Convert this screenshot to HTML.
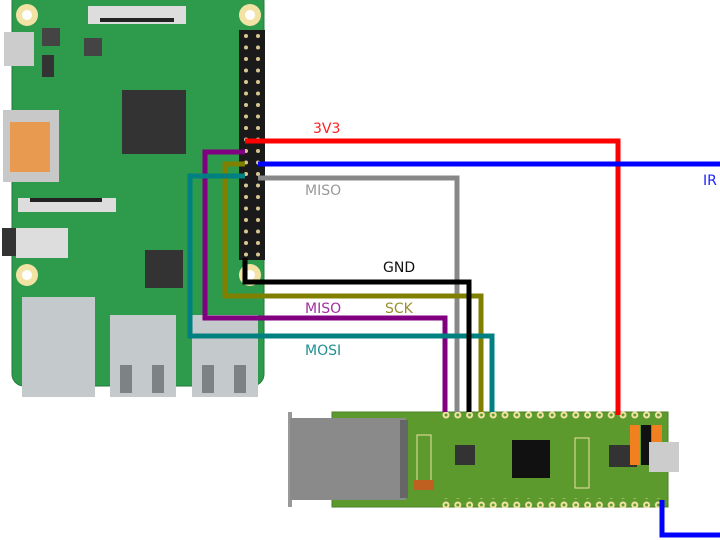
<!DOCTYPE html>
<html><head><meta charset="utf-8"><style>
body{margin:0;background:#fff;width:720px;height:540px;overflow:hidden}
svg{display:block}
text{font-family:"DejaVu Sans","Liberation Sans",sans-serif;font-size:14px}
</style></head><body>
<svg width="720" height="540" viewBox="0 0 720 540">
<defs>
<pattern id="hp" x="239" y="30" width="26" height="11.5" patternUnits="userSpaceOnUse">
<circle cx="7" cy="6" r="2" fill="#d8c890"/><circle cx="19" cy="6" r="2" fill="#d8c890"/>
</pattern>
<pattern id="pp" x="440" y="0" width="11.8" height="10" patternUnits="userSpaceOnUse">
<circle cx="6" cy="5" r="3.5" fill="#f2e3a5"/><circle cx="6" cy="5" r="1.5" fill="#5d9a2e"/>
</pattern>
</defs>
<!-- RPi board -->
<rect x="12" y="-10" width="252" height="396" rx="12" fill="#2e9a4c" stroke="#237a3a"/>
<circle cx="27" cy="15" r="11" fill="#f2e3a5"/><circle cx="27" cy="15" r="5" fill="#fff"/>
<circle cx="250" cy="15" r="11" fill="#f2e3a5"/><circle cx="250" cy="15" r="5" fill="#fff"/>
<circle cx="27" cy="275" r="11" fill="#f2e3a5"/><circle cx="27" cy="275" r="5" fill="#fff"/>
<circle cx="250" cy="275" r="11" fill="#f2e3a5"/><circle cx="250" cy="275" r="5" fill="#fff"/>
<rect x="88" y="6" width="98" height="18" fill="#ddd"/><rect x="100" y="18" width="74" height="4" fill="#222"/>
<rect x="4" y="32" width="30" height="34" fill="#ccc"/>
<rect x="3" y="110" width="56" height="72" fill="#c8c8c8"/><rect x="10" y="122" width="40" height="50" fill="#e89a50"/>
<rect x="18" y="198" width="98" height="14" fill="#ddd"/><rect x="30" y="198" width="72" height="4" fill="#222"/>
<rect x="2" y="228" width="14" height="28" fill="#333"/><rect x="16" y="228" width="52" height="30" fill="#ddd"/>
<rect x="122" y="90" width="64" height="64" fill="#333"/>
<rect x="145" y="250" width="38" height="38" fill="#333"/>
<rect x="42" y="28" width="18" height="18" fill="#444"/><rect x="84" y="38" width="18" height="18" fill="#444"/>
<rect x="42" y="55" width="12" height="22" fill="#333"/>
<rect x="239" y="30" width="26" height="230" fill="#1a1a1a"/>
<rect x="239" y="30" width="26" height="230" fill="url(#hp)"/>
<rect x="22" y="297" width="73" height="100" fill="#c4c9cc"/>
<rect x="110" y="315" width="66" height="82" fill="#c4c9cc"/>
<rect x="192" y="315" width="66" height="82" fill="#c4c9cc"/>
<rect x="120" y="365" width="12" height="28" fill="#7d8285"/><rect x="152" y="365" width="12" height="28" fill="#7d8285"/>
<rect x="202" y="365" width="12" height="28" fill="#7d8285"/><rect x="234" y="365" width="12" height="28" fill="#7d8285"/>
<!-- Pico board -->
<rect x="288" y="412" width="4" height="95" fill="#999"/>
<rect x="332" y="412" width="336" height="95" fill="#5d9a2e" stroke="#4a8024"/>
<rect x="290" y="418" width="116" height="82" fill="#8a8a8a"/><rect x="400" y="420" width="8" height="78" fill="#666"/>
<rect x="455" y="445" width="20" height="20" fill="#333"/>
<rect x="512" y="440" width="38" height="38" fill="#111"/>
<rect x="609" y="445" width="28" height="22" fill="#333"/>
<rect x="630" y="425" width="10" height="40" fill="#f08020"/><rect x="641" y="425" width="10" height="40" fill="#111"/><rect x="652" y="425" width="10" height="40" fill="#f08020"/>
<rect x="649" y="442" width="30" height="30" fill="#ccc"/>
<rect x="417" y="435" width="14" height="50" fill="none" stroke="#f0e0a0"/>
<rect x="575" y="438" width="14" height="50" fill="none" stroke="#f0e0a0"/>
<rect x="440" y="410" width="226" height="10" fill="url(#pp)"/>
<rect x="440" y="498" width="226" height="10" fill="url(#pp)"/>
<rect x="414" y="480" width="20" height="10" fill="#c06020"/>
<!-- wires -->
<g fill="none" stroke-width="5" stroke-linejoin="miter">
<polyline points="245,141 618,141 618,415" stroke="#ff0000"/>
<polyline points="258,164 720,164" stroke="#0000ff"/>
<polyline points="258,178 457,178 457,412" stroke="#888"/>
<polyline points="245,152 205,152 205,318 445,318 445,412" stroke="#800080"/>
<polyline points="245,164 225,164 225,296 481,296 481,412" stroke="#808000"/>
<polyline points="245,176 190,176 190,336 492,336 492,412" stroke="#008080"/>
<polyline points="245,258 245,282 469,282 469,412" stroke="#000"/>
<polyline points="662,500 662,535 720,535" stroke="#0000ff"/>
</g>
<text x="313" y="133" fill="#ff2020">3V3</text>
<text x="305" y="195" fill="#999">MISO</text>
<text x="383" y="272" fill="#111">GND</text>
<text x="305" y="313" fill="#a030a0">MISO</text>
<text x="385" y="313" fill="#999030">SCK</text>
<text x="305" y="355" fill="#209090">MOSI</text>
<text x="703" y="185" fill="#2020ff">IR</text>
</svg>
</body></html>
